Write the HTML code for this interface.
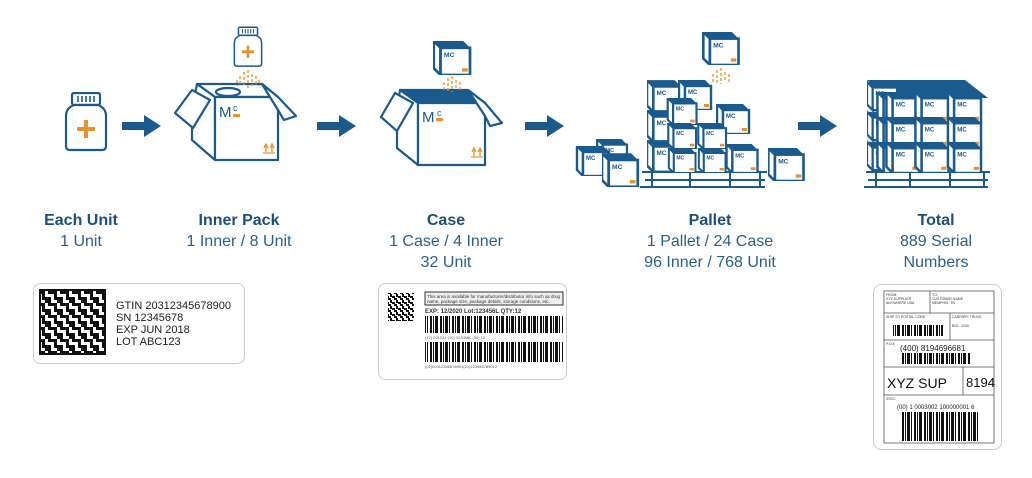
<!DOCTYPE html>
<html><head><meta charset="utf-8"><style>
html,body{margin:0;padding:0;background:#fff;width:1032px;height:478px;overflow:hidden}
svg{display:block}
.t{font-family:"Liberation Sans",sans-serif;font-weight:bold;font-size:16px;fill:#1d4f7a;text-anchor:middle}
.s{font-family:"Liberation Sans",sans-serif;font-size:16px;fill:#2a5f8c;text-anchor:middle}
.l{font-family:"Liberation Sans",sans-serif;font-size:11px;fill:#222}
</style></head><body>
<svg width="1032" height="478" viewBox="0 0 1032 478" xmlns="http://www.w3.org/2000/svg">
<defs>
<symbol id="c" viewBox="0 0 34 30">
<polygon points="0,0 26,0 32,6 6,6" fill="#1b5a8c"/>
<polygon points="0,0 6,6 6,30 0,24" fill="#fff" stroke="#1b5a8c" stroke-width="2.4"/>
<rect x="6" y="6" width="26" height="24" fill="#fff" stroke="#1b5a8c" stroke-width="2.4"/>
<text x="9" y="14" font-family="Liberation Sans,sans-serif" font-size="6" font-weight="bold" fill="#1b5a8c">MC</text>
<rect x="25" y="24" width="5" height="3" fill="#e8922e"/>
</symbol>
<symbol id="bt" viewBox="0 0 44 60">
<rect x="8" y="1" width="28" height="12" rx="2" fill="#fff" stroke="#1b5a8c" stroke-width="2.2"/>
<path d="M14 4v6M18 4v6M22 4v6M26 4v6M30 4v6" stroke="#1b5a8c" stroke-width="1.6"/>
<path d="M10 13 Q2 16 2 24 V54 Q2 58 6 58 H38 Q42 58 42 54 V24 Q42 16 34 13 Z" fill="#fff" stroke="#1b5a8c" stroke-width="2.2"/>
<path d="M22 28v18M13 37h18" stroke="#e8922e" stroke-width="4"/>
</symbol>
<symbol id="ar" viewBox="0 0 40 24">
<path d="M0 8h22V1l17 11-17 11v-7H0z" fill="#1b5a8c"/>
</symbol>
<pattern id="qr" width="12" height="12" patternUnits="userSpaceOnUse">
<rect width="12" height="12" fill="#fff"/>
<rect x="0" y="0" width="3" height="6" fill="#111"/><rect x="3" y="3" width="6" height="3" fill="#111"/>
<rect x="6" y="6" width="3" height="6" fill="#111"/><rect x="9" y="0" width="3" height="3" fill="#111"/>
<rect x="0" y="9" width="3" height="3" fill="#111"/><rect x="9" y="9" width="3" height="3" fill="#111"/>
</pattern>
<pattern id="qr2" width="6" height="6" patternUnits="userSpaceOnUse">
<rect width="6" height="6" fill="#fff"/>
<rect width="2" height="3" fill="#111"/><rect x="2" y="2" width="3" height="2" fill="#111"/><rect x="4" y="4" width="2" height="2" fill="#111"/><rect x="0" y="4" width="1" height="2" fill="#111"/>
</pattern>
<pattern id="bc" width="22" height="10" patternUnits="userSpaceOnUse">
<rect width="22" height="10" fill="#fff"/>
<rect x="0" width="2" height="10" fill="#111"/><rect x="3" width="1" height="10" fill="#111"/><rect x="5" width="3" height="10" fill="#111"/><rect x="9" width="1" height="10" fill="#111"/><rect x="12" width="2" height="10" fill="#111"/><rect x="15" width="1" height="10" fill="#111"/><rect x="17" width="3" height="10" fill="#111"/>
</pattern>
</defs>

<use href="#bt" x="63" y="92" width="46" height="60"/>
<use href="#ar" x="122" y="114" width="40" height="24"/>

<use href="#bt" x="233" y="26" width="30" height="42"/>
<g stroke="#1b5a8c" stroke-width="2.2" fill="#fff" stroke-linejoin="round">
<polygon points="197,84 262,84 278,97 215,97"/>
<polygon points="197,84 215,97 215,160 192,140 192,110"/>
<polygon points="192,90 175,113 193,128 210,100"/>
<rect x="215" y="97" width="63" height="63"/>
<polygon points="262,84 278,97 296,116 284,120 278,110"/>
<ellipse cx="228" cy="92" rx="12" ry="4"/>
</g>
<text x="219" y="117" font-family="Liberation Sans,sans-serif" font-size="15" fill="#1b5a8c">M</text>
<text x="233" y="111" font-family="Liberation Sans,sans-serif" font-size="9" fill="#1b5a8c">c</text>
<rect x="233" y="114" width="7" height="3" fill="#e8922e"/>
<path d="M264 148l2-4 2 4M266 144v8M270 148l2-4 2 4M272 144v8M263 153h12" stroke="#e8922e" stroke-width="1.3" fill="none"/>
<path d="M240 76v10M244 72v14M248 70v18M252 74v12M256 76v10M237 80v6M259 80v6" stroke="#e8922e" stroke-width="1.3" stroke-dasharray="3 2"/>
<use href="#ar" x="317" y="114" width="40" height="24"/>

<use href="#c" x="433" y="41" width="40" height="34"/>
<g stroke="#1b5a8c" stroke-width="2.2" fill="#fff" stroke-linejoin="round">
<polygon points="400,90 468,90 485,103 418,103" fill="#1b5a8c"/>
<polygon points="400,90 418,103 418,165 397,148 397,112"/>
<polygon points="395,93 381,117 397,131 413,103"/>
<rect x="418" y="103" width="67" height="62"/>
<polygon points="468,90 485,103 502,123 490,126 485,116"/>
</g>
<text x="422" y="122" font-family="Liberation Sans,sans-serif" font-size="15" fill="#1b5a8c">M</text>
<text x="437" y="116" font-family="Liberation Sans,sans-serif" font-size="9" fill="#1b5a8c">c</text>
<rect x="436" y="118" width="7" height="3" fill="#e8922e"/>
<path d="M472 152l2-4 2 4M474 148v8M478 152l2-4 2 4M480 148v8M471 157h12" stroke="#e8922e" stroke-width="1.3" fill="none"/>
<path d="M444 82v10M448 78v14M452 76v16M456 80v10M460 82v8" stroke="#e8922e" stroke-width="1.3" stroke-dasharray="3 2"/>
<use href="#ar" x="525" y="114" width="40" height="24"/>

<g stroke="#1b5a8c" stroke-width="2" fill="none">
<path d="M642 172h125M645 180h120M640 187h125M652 172v15M690 172v15M730 172v15M760 172v15"/>
</g>
<use href="#c" x="647" y="80" width="36" height="32"/>
<use href="#c" x="678" y="80" width="36" height="30"/>
<use href="#c" x="647" y="110" width="36" height="32"/>
<use href="#c" x="647" y="140" width="36" height="32"/>
<use href="#c" x="664" y="98" width="38" height="27"/>
<use href="#c" x="664" y="123" width="38" height="26"/>
<use href="#c" x="664" y="148" width="38" height="25"/>
<use href="#c" x="716" y="104" width="36" height="30"/>
<use href="#c" x="694" y="123" width="38" height="26"/>
<use href="#c" x="694" y="148" width="38" height="25"/>
<use href="#c" x="724" y="144" width="38" height="29"/>
<use href="#c" x="702" y="32" width="40" height="33"/>
<path d="M713 74v10M717 70v14M721 68v16M725 72v10M729 74v8" stroke="#e8922e" stroke-width="1.3" stroke-dasharray="3 2"/>
<use href="#c" x="594" y="139" width="38" height="28"/>
<use href="#c" x="575" y="146" width="38" height="30"/>
<use href="#c" x="602" y="153" width="38" height="34"/>
<use href="#c" x="768" y="148" width="38" height="33"/>
<use href="#ar" x="798" y="114" width="40" height="24"/>

<g stroke="#1b5a8c" stroke-width="2" fill="none">
<path d="M866 172h124M868 180h120M864 187h124M876 172v15M910 172v15M950 172v15M984 172v15"/>
</g>
<polygon points="867,80 965,80 988,98 893,98" fill="#1b5a8c"/>
<use href="#c" x="867" y="80" width="32" height="32"/>
<use href="#c" x="867" y="110" width="32" height="32"/>
<use href="#c" x="867" y="140" width="32" height="32"/>
<use href="#c" x="876" y="92" width="38" height="31"/>
<use href="#c" x="876" y="117" width="38" height="31"/>
<use href="#c" x="876" y="142" width="38" height="31"/>
<use href="#c" x="885" y="92" width="38" height="31"/><use href="#c" x="914" y="92" width="38" height="31"/><use href="#c" x="943" y="92" width="45" height="31"/>
<use href="#c" x="885" y="117" width="38" height="31"/><use href="#c" x="914" y="117" width="38" height="31"/><use href="#c" x="943" y="117" width="45" height="31"/>
<use href="#c" x="885" y="142" width="38" height="31"/><use href="#c" x="914" y="142" width="38" height="31"/><use href="#c" x="943" y="142" width="45" height="31"/>

<text class="t" x="81" y="225">Each Unit</text><text class="s" x="81" y="246">1 Unit</text>
<text class="t" x="239" y="225">Inner Pack</text><text class="s" x="239" y="246">1 Inner / 8 Unit</text>
<text class="t" x="446" y="225">Case</text><text class="s" x="446" y="246">1 Case / 4 Inner</text><text class="s" x="446" y="267">32 Unit</text>
<text class="t" x="710" y="225">Pallet</text><text class="s" x="710" y="246">1 Pallet / 24 Case</text><text class="s" x="710" y="267">96 Inner / 768 Unit</text>
<text class="t" x="936" y="225">Total</text><text class="s" x="936" y="246">889 Serial</text><text class="s" x="936" y="267">Numbers</text>

<rect x="33.5" y="283.5" width="211" height="80" rx="7" fill="#fff" stroke="#ccc"/>
<rect x="40" y="290" width="65" height="64" fill="url(#qr)"/>
<rect x="40" y="290" width="65" height="64" fill="none" stroke="#111" stroke-width="2"/>
<text class="l" x="116" y="309">GTIN  20312345678900</text>
<text class="l" x="116" y="321">SN  12345678</text>
<text class="l" x="116" y="333">EXP  JUN 2018</text>
<text class="l" x="116" y="345">LOT  ABC123</text>

<rect x="378.5" y="283.5" width="188" height="96" rx="7" fill="#fff" stroke="#ccc"/>
<rect x="388" y="293" width="26" height="28" fill="url(#qr2)"/>
<rect x="425" y="292" width="138" height="13" fill="#eee" stroke="#333"/>
<text x="427" y="298" font-family="Liberation Sans,sans-serif" font-size="4.5" fill="#333">This area is available for manufacturer/distributor info such as drug</text>
<text x="427" y="303" font-family="Liberation Sans,sans-serif" font-size="4.5" fill="#333">name, package size, package details, storage conditions, etc.</text>
<text x="425" y="313" font-family="Liberation Sans,sans-serif" font-size="6" font-weight="bold" fill="#333">EXP: 12/2020  Lot:123456L  QTY:12</text>
<rect x="425" y="316" width="138" height="17" fill="url(#bc)"/>
<text x="425" y="339" font-family="Liberation Sans,sans-serif" font-size="4" fill="#555">(17) 201231 (10) 123456L (30) 12</text>
<rect x="425" y="342" width="138" height="20" fill="url(#bc)"/>
<text x="425" y="368" font-family="Liberation Sans,sans-serif" font-size="4" fill="#555">(01)00312345678901(21)123456789012</text>

<rect x="873.5" y="284.5" width="128" height="165" rx="8" fill="#fff" stroke="#ccc"/>
<g fill="none" stroke="#555" stroke-width="0.8">
<rect x="884" y="291" width="110" height="152"/>
<path d="M884 313h110M884 340h110M884 367h110M884 395h110M930 291v22M950 313v27M963 367v28"/>
</g>
<g font-family="Liberation Sans,sans-serif" font-size="3.5" fill="#333">
<text x="886" y="296">FROM:</text><text x="886" y="300">XYZ SUPPLIER</text><text x="886" y="304">ANYWHERE USA</text>
<text x="932" y="296">TO:</text><text x="932" y="300">CUSTOMER NAME</text><text x="932" y="304">MEMPHIS, TN</text>
<text x="886" y="318">SHIP TO POSTAL CODE</text><text x="952" y="318">CARRIER: TRUCK</text><text x="952" y="327">BOL: 1234</text>
<text x="886" y="345">P.O.#</text><text x="886" y="400">SSCC</text>
</g>
<rect x="893" y="325" width="50" height="11" fill="url(#bc)"/>
<text x="900" y="351" font-family="Liberation Sans,sans-serif" font-size="8" fill="#222">(400)  8194696681</text>
<rect x="900" y="353" width="70" height="11" fill="url(#bc)"/>
<text x="887" y="388" font-family="Liberation Sans,sans-serif" font-size="14" fill="#111">XYZ SUP</text>
<text x="966" y="387" font-family="Liberation Sans,sans-serif" font-size="13" fill="#111">8194</text>
<text x="897" y="409" font-family="Liberation Sans,sans-serif" font-size="6" fill="#222">(00) 1 0003002 100000001 6</text>
<rect x="900" y="412" width="80" height="29" fill="url(#bc)"/>
</svg>
</body></html>
